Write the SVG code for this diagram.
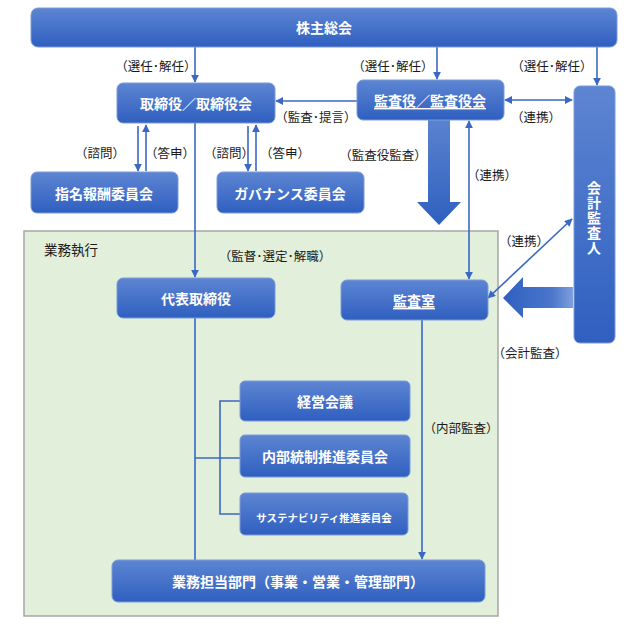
<svg xmlns="http://www.w3.org/2000/svg" width="640" height="626" viewBox="0 0 640 626">
<defs>
<linearGradient id="bx" x1="0" y1="0" x2="0" y2="1">
<stop offset="0" stop-color="#5d85d2"/>
<stop offset="1" stop-color="#2f5fc0"/>
</linearGradient>
<linearGradient id="bigDown" x1="0" y1="0" x2="0" y2="1">
<stop offset="0" stop-color="#5a83cf"/>
<stop offset="1" stop-color="#2f5fc0"/>
</linearGradient>
<linearGradient id="bigLeft" x1="1" y1="0" x2="0" y2="0">
<stop offset="0" stop-color="#7f9fdc"/>
<stop offset="0.3" stop-color="#4a76cb"/>
<stop offset="1" stop-color="#2f5fc0"/>
</linearGradient>
<marker id="ah" viewBox="0 0 10 10" refX="9" refY="5" markerWidth="8" markerHeight="8" orient="auto-start-reverse" markerUnits="userSpaceOnUse">
<path d="M0,0 L10,5 L0,10 z" fill="#3a68c4"/>
</marker>
</defs>
<style>
.box{fill:url(#bx);stroke:#7c9bd8;stroke-width:1}
.bt{font-family:"Noto Sans CJK JP","Noto Sans",sans-serif;font-size:14px;font-weight:bold;fill:#ffffff;text-anchor:middle;dominant-baseline:central}
.lb{font-family:"Noto Sans CJK JP","Noto Sans",sans-serif;font-size:12.5px;fill:#1a1a1a;text-anchor:middle;dominant-baseline:central}
.ln{fill:none;stroke:#3a68c4;stroke-width:1.6}
</style>
<rect x="0" y="0" width="640" height="626" fill="#ffffff"/>

<g id="area">
<rect x="24" y="231" width="474" height="385" fill="#e2efda" stroke="#a6a6a6" stroke-width="1.5"/>
<text class="lb" x="71" y="249" style="font-size:13.5px">業務執行</text>
</g>

<g id="connectors">
<line class="ln" x1="195" y1="47" x2="195" y2="82" marker-end="url(#ah)"/>
<line class="ln" x1="437" y1="47" x2="437" y2="79" marker-end="url(#ah)"/>
<line class="ln" x1="597" y1="47" x2="597" y2="85" marker-end="url(#ah)"/>
<line class="ln" x1="357" y1="101" x2="276" y2="101" marker-end="url(#ah)"/>
<line class="ln" x1="505" y1="100" x2="572" y2="100" marker-start="url(#ah)" marker-end="url(#ah)"/>
<line class="ln" x1="138" y1="126" x2="138" y2="171" marker-end="url(#ah)"/>
<line class="ln" x1="146" y1="171" x2="146" y2="125" marker-end="url(#ah)"/>
<line class="ln" x1="248" y1="126" x2="248" y2="171" marker-end="url(#ah)"/>
<line class="ln" x1="256" y1="171" x2="256" y2="125" marker-end="url(#ah)"/>
<line class="ln" x1="195" y1="123" x2="195" y2="277" marker-end="url(#ah)"/>
<line class="ln" x1="469" y1="121" x2="469" y2="279" marker-start="url(#ah)" marker-end="url(#ah)"/>
<line class="ln" x1="572" y1="219" x2="488" y2="298" marker-start="url(#ah)" marker-end="url(#ah)"/>
<line class="ln" x1="195" y1="318" x2="195" y2="560"/>
<polyline class="ln" points="195,458 240,458"/>
<polyline class="ln" points="240,401 220,401 220,514 240,514"/>
<line class="ln" x1="422" y1="320" x2="422" y2="559" marker-end="url(#ah)"/>
<polygon points="428,120 450,120 450,202 461,202 439,225 417,202 428,202" fill="url(#bigDown)"/>
<polygon points="573,287 523,287 523,277 503,298 523,318 523,308 573,308" fill="url(#bigLeft)"/>
</g>

<g id="labels">
<text class="lb" x="156" y="65">（選任･解任）</text>
<text class="lb" x="393" y="65">（選任･解任）</text>
<text class="lb" x="552" y="65">（選任･解任）</text>
<text class="lb" x="316" y="116">（監査･提言）</text>
<text class="lb" x="536" y="116">（連携）</text>
<text class="lb" x="100" y="152">（諮問）</text>
<text class="lb" x="170" y="152">（答申）</text>
<text class="lb" x="229" y="152">（諮問）</text>
<text class="lb" x="285" y="152">（答申）</text>
<text class="lb" x="383" y="154">（監査役監査）</text>
<text class="lb" x="492" y="174">（連携）</text>
<text class="lb" x="524" y="240">（連携）</text>
<text class="lb" x="275" y="255">（監督･選定･解職）</text>
<text class="lb" x="530" y="352">（会計監査）</text>
<text class="lb" x="461" y="427">（内部監査）</text>
</g>

<g id="n-shareholders">
<rect class="box" x="31" y="8" width="586" height="39" rx="7"/>
<text class="bt" x="324" y="27">株主総会</text>
</g>
<g id="n-board">
<rect class="box" x="117" y="83" width="158" height="40" rx="6"/>
<text class="bt" x="196" y="103">取締役／取締役会</text>
</g>
<g id="n-auditors">
<rect class="box" x="357" y="80" width="147" height="40" rx="6"/>
<text class="bt" x="430" y="100" text-decoration="underline">監査役／監査役会</text>
</g>
<g id="n-accountant">
<rect class="box" x="574" y="86" width="41" height="257" rx="6"/>
<text x="594" y="218" style="font-family:'Noto Sans CJK JP','Noto Sans',sans-serif;font-size:14px;font-weight:bold;fill:#ffffff;text-anchor:middle;writing-mode:vertical-rl;letter-spacing:1px">会計監査人</text>
</g>
<g id="n-nomination">
<rect class="box" x="31" y="172" width="147" height="41" rx="6"/>
<text class="bt" x="104" y="193">指名報酬委員会</text>
</g>
<g id="n-governance">
<rect class="box" x="217" y="172" width="147" height="41" rx="6"/>
<text class="bt" x="290" y="193">ガバナンス委員会</text>
</g>
<g id="n-president">
<rect class="box" x="117" y="278" width="158" height="40" rx="6"/>
<text class="bt" x="196" y="298">代表取締役</text>
</g>
<g id="n-audit-office">
<rect class="box" x="341" y="280" width="147" height="40" rx="6"/>
<text class="bt" x="414" y="300" text-decoration="underline">監査室</text>
</g>
<g id="n-management">
<rect class="box" x="240" y="381" width="170" height="40" rx="5"/>
<text class="bt" x="325" y="401">経営会議</text>
</g>
<g id="n-internal-control">
<rect class="box" x="240" y="435" width="170" height="42" rx="5"/>
<text class="bt" x="325" y="456">内部統制推進委員会</text>
</g>
<g id="n-sustainability">
<rect class="box" x="240" y="493" width="168" height="42" rx="5"/>
<text class="bt" x="324" y="517" style="font-size:10.5px">サステナビリティ推進委員会</text>
</g>
<g id="n-business">
<rect class="box" x="112" y="560" width="373" height="42" rx="6"/>
<text class="bt" x="298" y="581">業務担当部門（事業・営業・管理部門）</text>
</g>
</svg>
